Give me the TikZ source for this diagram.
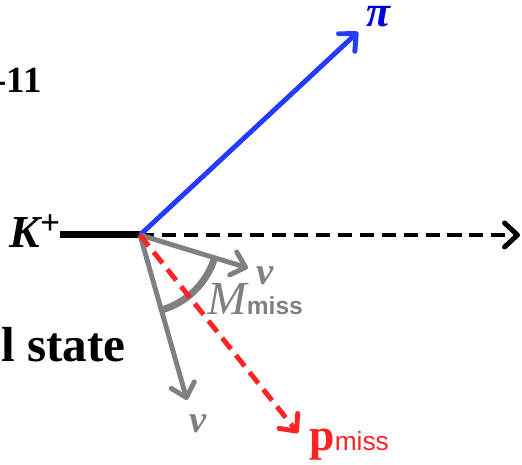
\documentclass[tikz,border=0pt]{standalone}
\usepackage{fontspec}
\setmainfont{Liberation Serif}
\setsansfont{Liberation Sans}
\definecolor{pblue}{RGB}{35,60,255}
\definecolor{pired}{RGB}{255,35,35}
\definecolor{nugray}{RGB}{128,128,128}
\usetikzlibrary{arrows.meta}

\begin{document}
\begin{tikzpicture}[x=0.02cm,y=0.02cm,
    vec/.style={line width=2.8pt,-{Straight Barb[length=2.6mm,width=4.8mm,round]}},
    dashvec/.style={vec,dash pattern=on 8pt off 4.5pt},
    greek/.style={font=\fontsize{#1}{#1}\selectfont\bfseries\itshape,
                  inner sep=0pt,text height=1ex,text depth=0pt}]
  \useasboundingbox (0,0) rectangle (522,465);

  % decay vertex and arrow tips
  \coordinate (o) at (140,230);
  \coordinate (kin) at (60,230);
  \coordinate (fwd) at (520,230);
  \coordinate (pitip) at (358,433);
  \coordinate (nuatip) at (248,197);
  \coordinate (nubtip) at (187,65);
  \coordinate (pmtip) at (298,32);

  % cut-off slide text
  \node[anchor=east,font=\fontsize{21}{24}\selectfont\bfseries,inner sep=0pt]
        (num) at (42,385) {-11};
  \node[anchor=east,font=\fontsize{28}{30}\selectfont\bfseries,inner sep=0pt]
        (state) at (126,120) {l state};

  % labels
  \node[font=\fontsize{26}{28}\selectfont\bfseries\itshape,inner sep=0pt]
        (kplus) at (35,234) {K\raisebox{0.3em}{\fontsize{20}{22}\selectfont\upshape +}};
  \node[greek=25,text=blue!90!black] (pi) at (378,443) {π};
  \node[greek=22,text=nugray] (nua) at (265,185) {ν};
  \node[greek=22,text=nugray] (nub) at (198,37) {ν};
  \node[text=nugray,inner sep=0pt,anchor=base west]
        (mmiss) at (207,150) {\fontsize{27}{28}\selectfont\itshape M\fontsize{14}{16}\selectfont\upshape\sffamily\bfseries miss};
  \node[text=pired,inner sep=0pt,anchor=base west]
        (pmiss) at (309,14) {\fontsize{26}{28}\selectfont\bfseries p\fontsize{15}{17}\selectfont\mdseries\sffamily miss};

  % incoming kaon
  \draw[line width=4pt] (kin) -- (o);
  \draw[dashvec] (o) -- (fwd);

  % missing mass arc
  \draw[nugray,line width=4pt] (o) ++(-17:78) arc[start angle=-17,end angle=-74,radius=78];

  % decay products
  \draw[vec,pblue] (o) -- (pitip);
  \draw[vec,nugray] (o) -- (nuatip);
  \draw[vec,nugray] (o) -- (nubtip);
  \draw[dashvec,pired] (o) -- (pmtip);
\end{tikzpicture}
\end{document}
